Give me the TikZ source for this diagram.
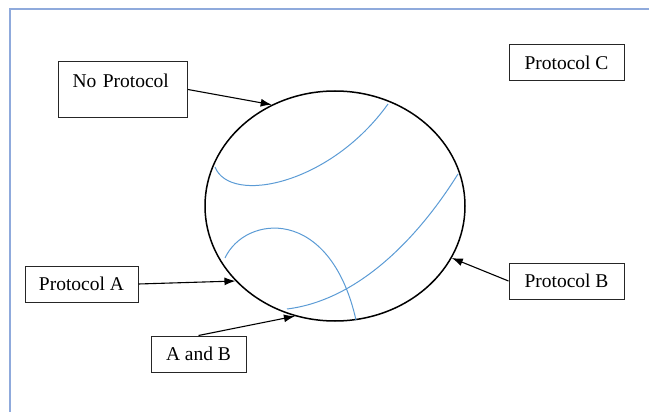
\documentclass[tikz,border=0pt]{standalone}
\usepackage{fontspec}
\setmainfont{Liberation Serif}
\usetikzlibrary{shapes.geometric,arrows.meta}
\definecolor{framecol}{RGB}{143,170,220}
\definecolor{slicecol}{RGB}{91,155,213}
\tikzstyle{protobox}=[draw=black!85, line width=1pt, minimum height=36pt, inner sep=0pt, font=\fontsize{19.5}{23}\selectfont]
\tikzset{slice/.style={color=slicecol, line width=1pt}}
\tikzset{pointer/.style={-{Latex[length=11pt,width=8pt]}, line width=1.1pt}}

\begin{document}
\begin{tikzpicture}[x=1pt,y=-1pt]
  \useasboundingbox (0,0) rectangle (649,412);
  %% Page frame
  \draw[framecol, line width=2pt] (10,412) -- (10,9) -- (649,9);

  \draw (335,206) node[ellipse, draw, line width=1.5pt, minimum width=260pt, minimum height=230pt, inner sep=0pt] (E) {};

  \draw (58,61) node[protobox, anchor=north west, text width=101pt, align=left, inner xsep=14pt, inner ysep=13pt, text height=13pt, text depth=17pt] (NP) {No Protocol};
  \draw (566.5,63) node[protobox, minimum width=115pt] (PC) {Protocol C};
  \draw (81.5,284) node[protobox, minimum width=113pt] (PA) {Protocol A};
  \draw (198.5,354) node[protobox, minimum width=95pt] (AB) {A and B};
  \draw (566.5,281) node[protobox, minimum width=115pt] (PB) {Protocol B};

  %% Regions inside the set
  \draw[slice] (215,167) .. controls (230,205) and (330,185) .. (388,104);
  \draw[slice] (458,174) .. controls (420,235) and (360,300) .. (287,309);
  \draw[slice] (225,258) .. controls (245,215) and (330,205) .. (356,320);

  \draw[pointer] (NP.east) -- (E.122);
  \draw[pointer] (PA.east) -- (E.217);
  \draw[pointer] (AB.north) -- (E.250);
  \draw[pointer] (PB.west) -- (E.336);
\end{tikzpicture}
\end{document}
